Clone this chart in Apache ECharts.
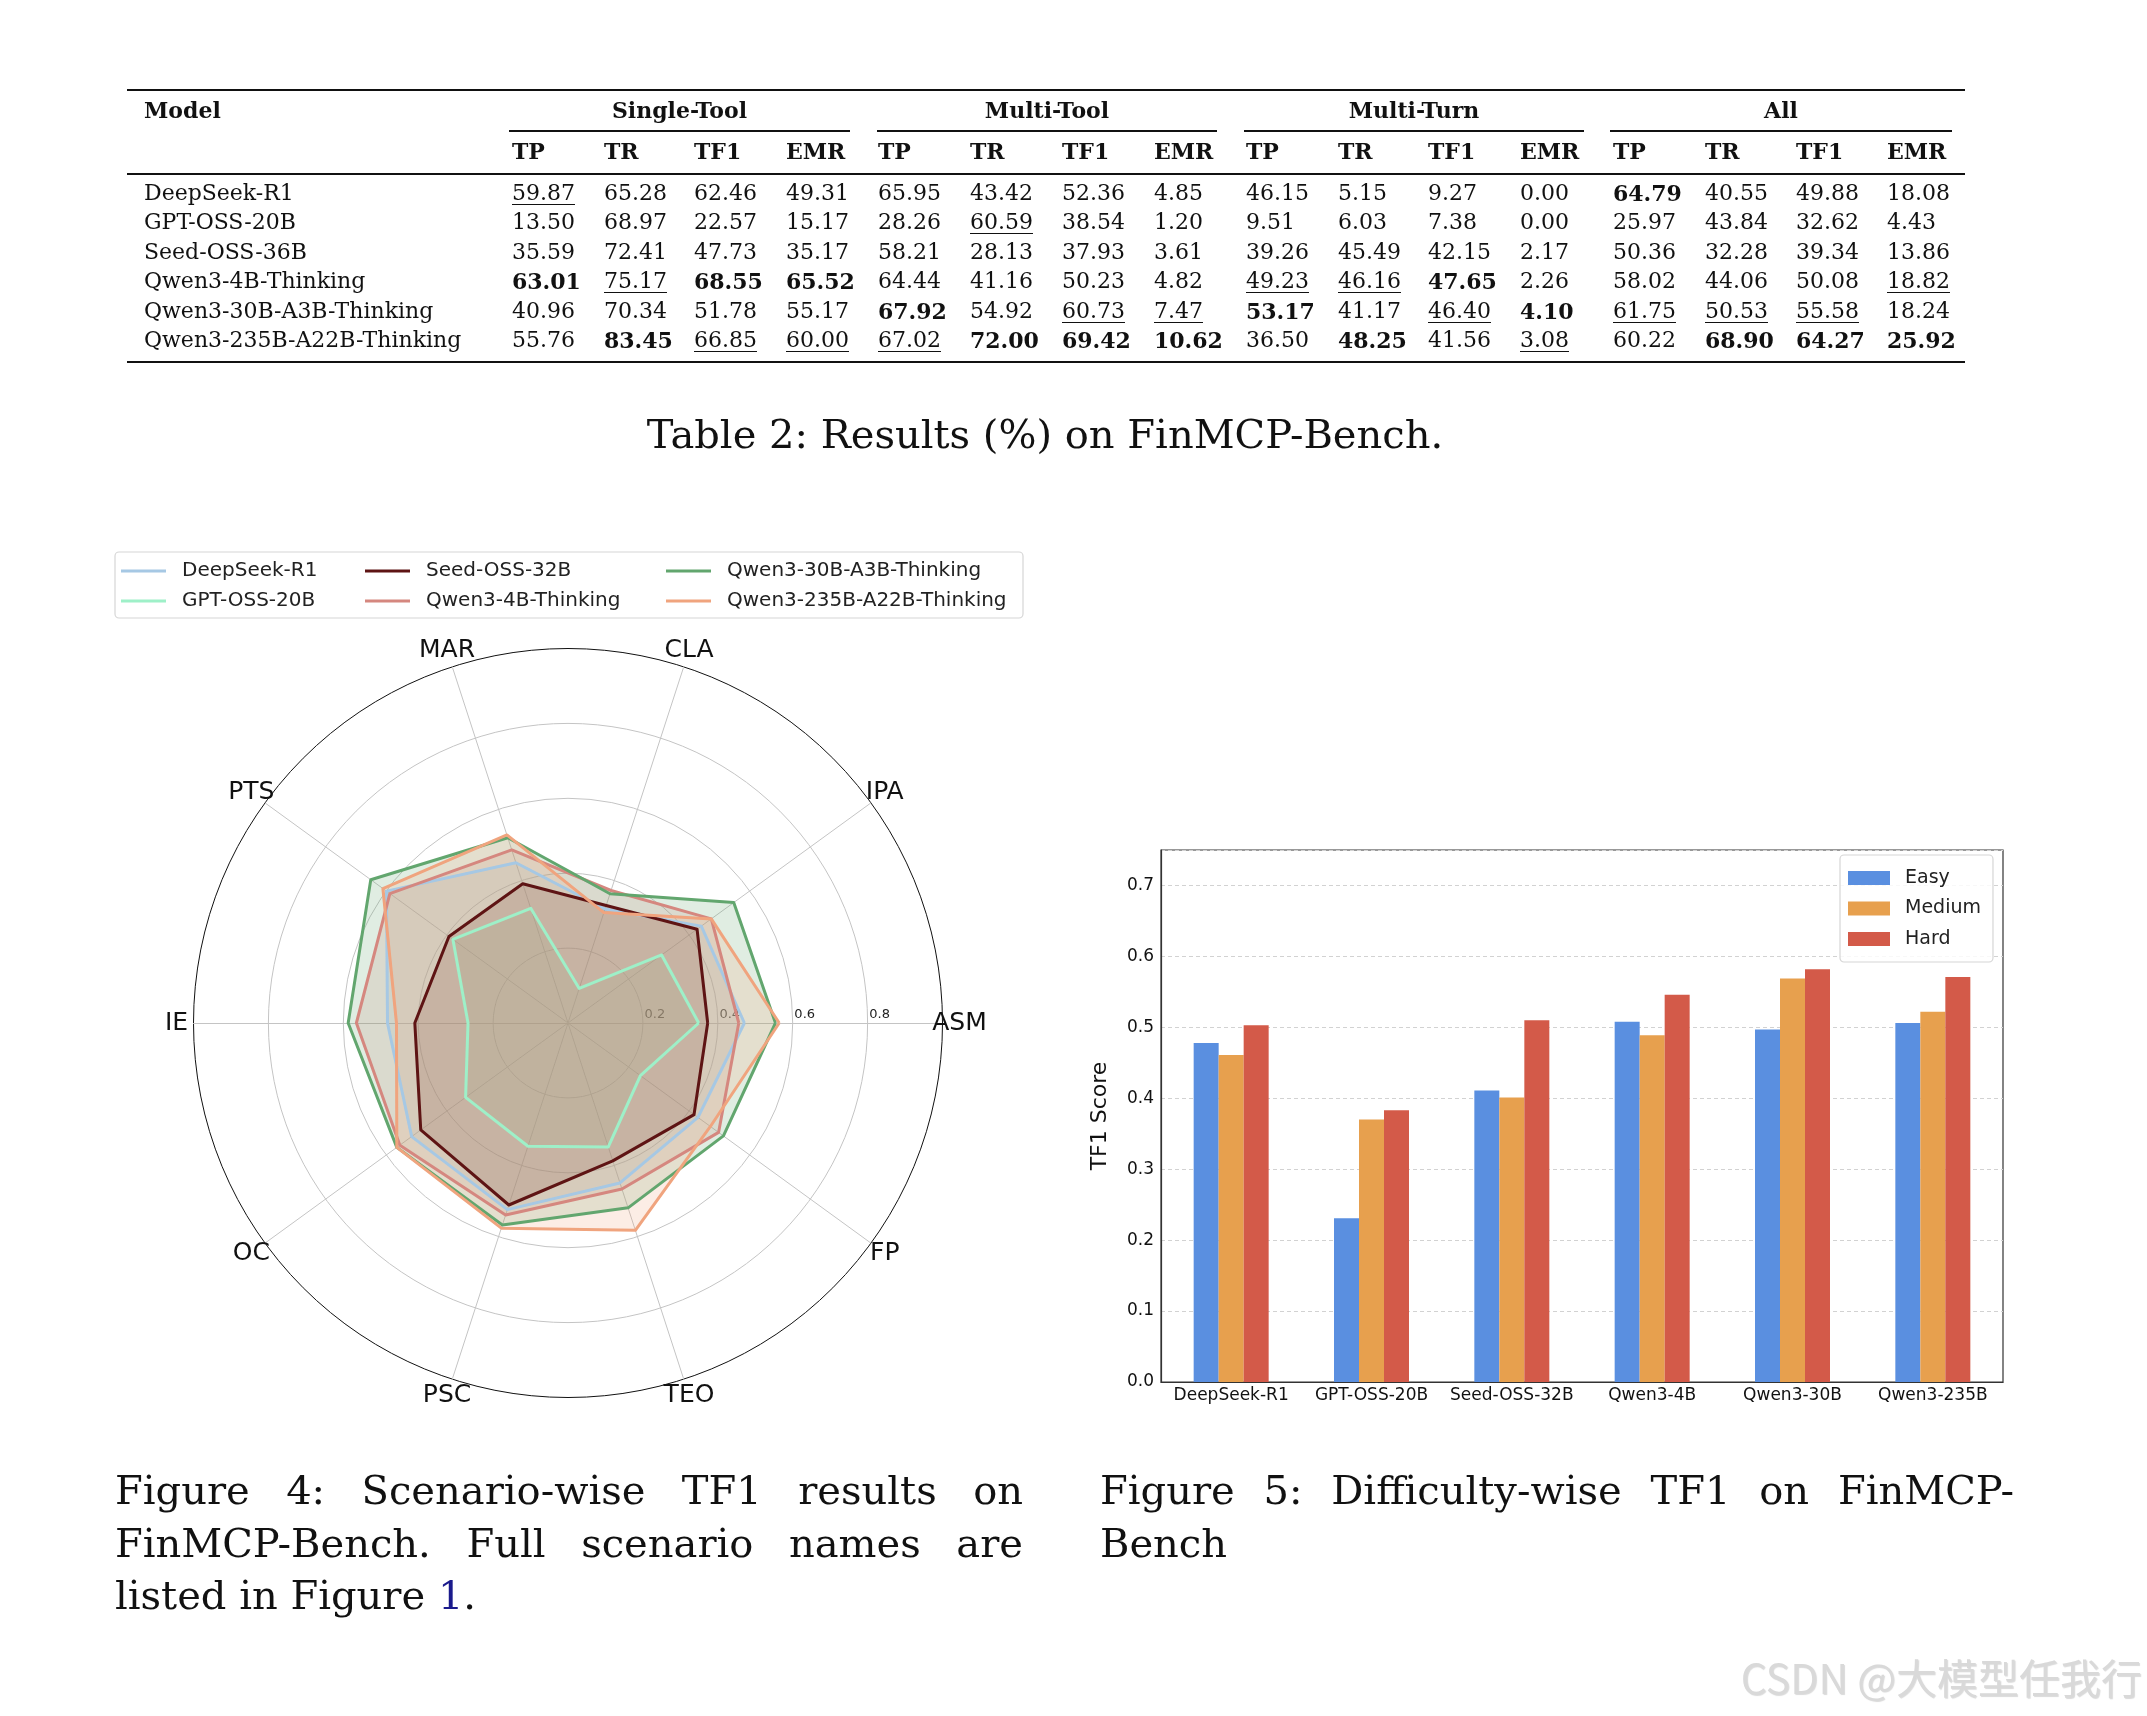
<!DOCTYPE html>
<html><head><meta charset="utf-8">
<script src="https://cdn.jsdelivr.net/npm/echarts@6/dist/echarts.min.js"></script>
<style>
html,body{margin:0;padding:0;background:#fff;}
#page{position:relative;width:2147px;height:1716px;overflow:hidden;background:#fff;}
#chart{position:absolute;left:0;top:0;width:2147px;height:1716px;}
#overlay{position:absolute;left:0;top:0;width:2147px;height:1716px;pointer-events:none;}
.t{position:absolute;white-space:nowrap;font-family:'DejaVu Serif',serif;color:#111;font-size:22px;line-height:30px;height:30px;}
.b{font-weight:bold;}
.u{text-decoration:underline;text-underline-offset:4px;text-decoration-thickness:1.3px;}
.rule{position:absolute;background:#111;}
.cap{position:absolute;font-family:'DejaVu Serif',serif;color:#111;font-size:40px;line-height:52px;white-space:nowrap;}
.just{text-align:justify;text-align-last:justify;white-space:normal;}
</style></head><body>
<div id="page"><div id="chart"></div><div id="overlay"></div></div>
<script>
// ---------------- Table data ----------------
const tableModels = ['DeepSeek-R1','GPT-OSS-20B','Seed-OSS-36B','Qwen3-4B-Thinking','Qwen3-30B-A3B-Thinking','Qwen3-235B-A22B-Thinking'];
const tableGroups = ['Single-Tool','Multi-Tool','Multi-Turn','All'];
const tableMetrics = ['TP','TR','TF1','EMR'];
const rowDeepSeek = ['59.87','65.28','62.46','49.31','65.95','43.42','52.36','4.85','46.15','5.15','9.27','0.00','64.79','40.55','49.88','18.08'];
const rowGPT      = ['13.50','68.97','22.57','15.17','28.26','60.59','38.54','1.20','9.51','6.03','7.38','0.00','25.97','43.84','32.62','4.43'];
const rowSeed     = ['35.59','72.41','47.73','35.17','58.21','28.13','37.93','3.61','39.26','45.49','42.15','2.17','50.36','32.28','39.34','13.86'];
const rowQ4B      = ['63.01','75.17','68.55','65.52','64.44','41.16','50.23','4.82','49.23','46.16','47.65','2.26','58.02','44.06','50.08','18.82'];
const rowQ30B     = ['40.96','70.34','51.78','55.17','67.92','54.92','60.73','7.47','53.17','41.17','46.40','4.10','61.75','50.53','55.58','18.24'];
const rowQ235B    = ['55.76','83.45','66.85','60.00','67.02','72.00','69.42','10.62','36.50','48.25','41.56','3.08','60.22','68.90','64.27','25.92'];
// b = best (bold), u = second (underlined)
const markDeepSeek = ['u','','','','','','','','','','','','b','','',''];
const markGPT      = ['','','','','','u','','','','','','','','','',''];
const markSeed     = ['','','','','','','','','','','','','','','',''];
const markQ4B      = ['b','u','b','b','','','','','u','u','b','','','','','u'];
const markQ30B     = ['','','','','b','','u','u','b','','u','b','u','u','u',''];
const markQ235B    = ['','b','u','u','u','b','b','b','','b','','u','','b','b','b'];
const tableRows = [rowDeepSeek,rowGPT,rowSeed,rowQ4B,rowQ30B,rowQ235B];
const tableMarks = [markDeepSeek,markGPT,markSeed,markQ4B,markQ30B,markQ235B];

// ---------------- Radar data (scenario-wise TF1) ----------------
const scenarios = ['ASM','IPA','CLA','MAR','PTS','IE','OC','PSC','TEO','FP'];
const radarModels = ['DeepSeek-R1','GPT-OSS-20B','Seed-OSS-32B','Qwen3-4B-Thinking','Qwen3-30B-A3B-Thinking','Qwen3-235B-A22B-Thinking'];
const tf1DeepSeek = [0.471,0.440,0.320,0.450,0.599,0.482,0.516,0.524,0.449,0.429];
const tf1GPT      = [0.349,0.309,0.097,0.322,0.380,0.267,0.338,0.346,0.348,0.239];
const tf1Seed     = [0.373,0.426,0.330,0.391,0.393,0.409,0.486,0.511,0.387,0.416];
const tf1Q4B      = [0.456,0.473,0.372,0.486,0.588,0.565,0.555,0.539,0.466,0.497];
const tf1Q30B     = [0.554,0.547,0.363,0.520,0.651,0.587,0.565,0.567,0.519,0.513];
const tf1Q235B    = [0.564,0.473,0.310,0.528,0.611,0.458,0.565,0.576,0.582,0.470];
const radarValues = [tf1DeepSeek,tf1GPT,tf1Seed,tf1Q4B,tf1Q30B,tf1Q235B];

// ---------------- Bar data (difficulty-wise TF1) ----------------
const barModels = ['DeepSeek-R1','GPT-OSS-20B','Seed-OSS-32B','Qwen3-4B','Qwen3-30B','Qwen3-235B'];
const levels = ['Easy','Medium','Hard'];
const tf1Easy   = [0.478,0.231,0.411,0.508,0.497,0.506];
const tf1Medium = [0.461,0.370,0.401,0.489,0.569,0.522];
const tf1Hard   = [0.503,0.383,0.510,0.546,0.582,0.571];

// ---------------- Styles / layout ----------------
const radarColors = ['#a6c8e4','#9ef0c8','#5e1414','#d5877f','#62a66e','#f0a47e'];
const barColors = ['#5a8fe0','#e7a04e','#d35a49'];
const colX = [512,604,694,786, 878,970,1062,1154, 1246,1338,1428,1520, 1613,1705,1796,1887];
const groupSpan = [[509,850],[877,1217],[1244,1584],[1610,1952]];
const rowY = [193,222,252,281,311,340];

// ---------------- Build table (HTML text) ----------------
const ov = document.getElementById('overlay');
function txt(s, x, cy, cls, center){
  const d = document.createElement('div');
  d.className = 't ' + (cls||'');
  d.textContent = s;
  d.style.left = x + 'px';
  d.style.top = (cy - 15) + 'px';
  if (center) d.style.transform = 'translateX(-50%)';
  ov.appendChild(d);
  return d;
}
function rule(x0, x1, y, h){
  const d = document.createElement('div');
  d.className = 'rule';
  d.style.left = x0+'px'; d.style.width = (x1-x0)+'px';
  d.style.top = (y - h/2)+'px'; d.style.height = h+'px';
  ov.appendChild(d);
}
rule(127,1965,90,2.2);
rule(127,1965,174,1.3);
rule(127,1965,362,2.2);
groupSpan.forEach(function(g){ rule(g[0],g[1],131,1.2); });
txt('Model',144,110,'b');
tableGroups.forEach(function(g,i){ txt(g,(groupSpan[i][0]+groupSpan[i][1])/2,110,'b',true); });
colX.forEach(function(x,i){ txt(tableMetrics[i%4],x,151,'b'); });
tableModels.forEach(function(m,r){
  txt(m,144,rowY[r],'');
  tableRows[r].forEach(function(v,c){ txt(v,colX[c],rowY[r],tableMarks[r][c]); });
});

// ---------------- Captions ----------------
function cap(html, x, cy, w, justify){
  const d = document.createElement('div');
  d.className = 'cap' + (justify ? ' just' : '');
  d.innerHTML = html;
  d.style.left = x+'px'; d.style.top = (cy-26)+'px';
  if (w) d.style.width = w+'px';
  ov.appendChild(d);
}
(function(){
  const d = document.createElement('div');
  d.className = 'cap';
  d.textContent = 'Table 2: Results (%) on FinMCP-Bench.';
  d.style.left = '1045px'; d.style.top = (434-26)+'px';
  d.style.transform = 'translateX(-50%)';
  ov.appendChild(d);
})();
cap('Figure 4: Scenario-wise TF1 results on',115,1490,908,true);
cap('FinMCP-Bench. Full scenario names are',115,1543,908,true);
cap('listed in Figure <span style="color:#1a1a8c">1</span>.',115,1595,0,false);
cap('Figure 5: Difficulty-wise TF1 on FinMCP-',1100,1490,914,true);
cap('Bench',1100,1543,0,false);
(function(){
  const d = document.createElement('div');
  d.textContent = 'CSDN @大模型任我行';
  d.style.cssText = "position:absolute;right:5px;top:1651px;font-family:'Noto Sans CJK SC',sans-serif;font-size:41px;line-height:50px;color:#d9d9d9;text-shadow:1px 1px 1px rgba(0,0,0,0.15);white-space:nowrap;";
  ov.appendChild(d);
})();

// ---------------- ECharts ----------------
const chart = echarts.init(document.getElementById('chart'), null, {renderer:'canvas'});
const FONT = 'DejaVu Sans';
const legendCommon = {
  orient:'vertical', padding:0, itemGap:10, itemWidth:45, itemHeight:3, icon:'rect',
  textStyle:{fontFamily:FONT, fontSize:20, lineHeight:20, color:'#222', padding:[0,0,0,11]}
};
// outlines (drawn above every fill) and translucent fills
const radarLineSeries = radarModels.map(function(name,i){
  return {
    type:'radar', name:name, radarIndex:0, symbol:'none', color:radarColors[i], z:3,
    lineStyle:{color:radarColors[i], width:3},
    itemStyle:{color:radarColors[i]},
    data:[{value:radarValues[i], name:name}]
  };
});
const radarAreaSeries = radarModels.map(function(name,i){
  return {
    type:'radar', name:name, radarIndex:0, symbol:'none', color:radarColors[i], z:2,
    lineStyle:{color:radarColors[i], width:0},
    itemStyle:{color:radarColors[i]},
    areaStyle:{color:radarColors[i], opacity:0.2},
    data:[{value:radarValues[i], name:name}]
  };
});
const barSeries = levels.map(function(l,i){
  return {
    type:'bar', name:l, xAxisIndex:0, yAxisIndex:0, barWidth:25, barGap:'0%',
    itemStyle:{color:barColors[i]},
    data:[tf1Easy,tf1Medium,tf1Hard][i]
  };
});
const option = {
  animation:false,
  backgroundColor:'transparent',
  textStyle:{fontFamily:FONT},
  graphic:[{
    type:'rect', z:0, shape:{x:115,y:552,width:908,height:66,r:4},
    style:{fill:'#ffffff', stroke:'#d6d6d6', lineWidth:1.2}
  }],
  legend:[
    Object.assign({data:[radarModels[0],radarModels[1]], left:121, top:561}, legendCommon),
    Object.assign({data:[radarModels[2],radarModels[3]], left:365, top:561}, legendCommon),
    Object.assign({data:[radarModels[4],radarModels[5]], left:666, top:561}, legendCommon),
    {
      data:levels, orient:'vertical', left:1840, top:855, itemWidth:42, itemHeight:14, icon:'rect',
      itemGap:10.5, padding:[13,12,13,8], borderColor:'#d6d6d6', borderWidth:1.2, borderRadius:4,
      backgroundColor:'rgba(255,255,255,0.85)',
      textStyle:{fontFamily:FONT, fontSize:19, lineHeight:20, color:'#222', padding:[0,0,0,10]}
    }
  ],
  radar:{
    center:[568,1023], radius:374.5, startAngle:0, shape:'circle', splitNumber:5,
    indicator:scenarios.map(function(s,i){
      const o = {name:s, min:0, max:1};
      if (i===0) o.axisLabel = {show:true};
      return o;
    }),
    nameGap:17,
    axisName:{color:'#111', fontFamily:FONT, fontSize:25, align:'center', verticalAlign:'middle', padding:[4,0,0,0]},
    axisLine:{show:true, lineStyle:{color:'#c4c4c4', width:1}},
    axisTick:{show:false},
    axisLabel:{show:false, fontFamily:FONT, fontSize:13, color:'#222', margin:2, padding:[0,0,0,24],
      formatter:function(v){ return (v>0.001 && v<0.999) ? (+v).toFixed(1) : ''; }},
    splitLine:{lineStyle:{color:['#c4c4c4','#c4c4c4','#c4c4c4','#c4c4c4','#c4c4c4','#111'], width:1}},
    splitArea:{show:false}
  },
  grid:{left:1161, top:850, width:842, height:532, show:true, borderColor:'#333', borderWidth:1.2, containLabel:false},
  xAxis:{
    type:'category', data:barModels,
    axisLine:{lineStyle:{color:'#333', width:1.2}},
    axisTick:{show:false},
    axisLabel:{fontFamily:FONT, fontSize:17, color:'#111', margin:5, interval:0}
  },
  yAxis:{
    type:'value', min:0, max:0.75, interval:0.1,
    name:'TF1 Score', nameLocation:'middle', nameGap:50, nameRotate:90,
    nameTextStyle:{fontFamily:FONT, fontSize:22, color:'#111'},
    axisLine:{show:true, lineStyle:{color:'#333', width:1.2}},
    axisTick:{show:false},
    axisLabel:{fontFamily:FONT, fontSize:17, color:'#111', margin:7,
      formatter:function(v){ return Math.abs(v*10-Math.round(v*10))<1e-6 ? v.toFixed(1) : ''; }},
    splitLine:{show:true, lineStyle:{color:'#d2d2d2', type:[4,3], width:1}}
  },
  series: radarLineSeries.concat(radarAreaSeries).concat(barSeries)
};
chart.setOption(option);
</script>
</body></html>
